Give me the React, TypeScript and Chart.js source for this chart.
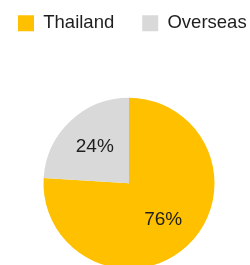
import React, { useEffect, useRef } from "react";
import { Chart, registerables } from "chart.js";

Chart.register(...registerables);

const categories = ["Thailand", "Overseas"];
const shares = [76, 24];
const colors = ["#FFC000", "#D9D9D9"];

const FONT = "'Liberation Sans', Arial, sans-serif";

const sliceLabels = {
  id: "sliceLabels",
  afterDatasetsDraw(chart: any) {
    const ctx = chart.ctx;
    const meta = chart.getDatasetMeta(0);
    const data = chart.data.datasets[0].data as number[];
    ctx.save();
    ctx.font = `19px ${FONT}`;
    ctx.fillStyle = "#1e1e1e";
    ctx.textAlign = "center";
    ctx.textBaseline = "middle";
    meta.data.forEach((arc: any, i: number) => {
      const p = arc.getProps(["x", "y", "startAngle", "endAngle", "outerRadius"], true);
      const mid = (p.startAngle + p.endAngle) / 2;
      const r = p.outerRadius * 0.585;
      ctx.fillText(`${data[i]}%`, p.x + Math.cos(mid) * r, p.y + Math.sin(mid) * r);
    });
    ctx.restore();
  },
};

export default function App() {
  const ref = useRef<HTMLCanvasElement | null>(null);
  useEffect(() => {
    if (!ref.current) return;
    const chart = new Chart(ref.current, {
      type: "pie",
      data: {
        labels: categories,
        datasets: [
          {
            data: shares,
            backgroundColor: colors,
            borderWidth: 0,
            radius: 85.5,
          } as any,
        ],
      },
      options: {
        responsive: false,
        animation: false,
        layout: { padding: 0 },
        plugins: {
          legend: {
            position: "top",
            align: "start",
            labels: {
              boxWidth: 16,
              boxHeight: 16,
              padding: 28,
              color: "#1e1e1e",
              font: { family: FONT, size: 18.5 },
            },
          },
          tooltip: { enabled: false },
          // invisible spacer on the right so the pie sits left of the legend's centre
          title: {
            display: true,
            position: "right",
            text: " ",
            font: { size: 10, lineHeight: 1.2 },
            padding: { top: 5, bottom: 5 },
          },
        },
      },
      plugins: [sliceLabels],
    });
    return () => chart.destroy();
  }, []);
  return (
    <div
      style={{
        position: "fixed",
        left: 0,
        top: 0,
        width: 250,
        height: 265,
        overflow: "hidden",
        background: "#fff",
      }}
    >
      <canvas
        ref={ref}
        width={300}
        height={338}
        style={{ position: "absolute", left: -10, top: -14, width: 300, height: 338 }}
      />
    </div>
  );
}
